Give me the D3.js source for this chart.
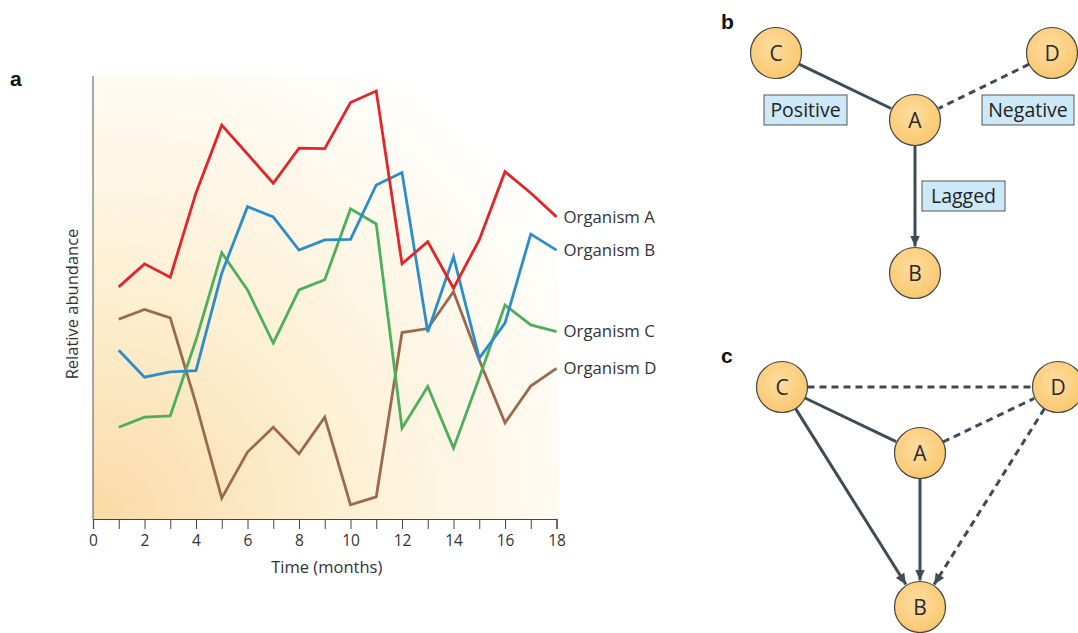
<!DOCTYPE html>
<html>
<head>
<meta charset="utf-8">
<script src="https://cdn.jsdelivr.net/npm/d3@7"></script>
<style>
  html,body{margin:0;padding:0;background:#fff;}
  svg{display:block;font-family:"Open Sans",sans-serif;}
</style>
</head>
<body>
<svg id="chart" width="1078" height="633"></svg>
<script>
// --- data (panel a) ---
var months = [1,2,3,4,5,6,7,8,9,10,11,12,13,14,15,16,17,18];
var xTicks = [0,1,2,3,4,5,6,7,8,9,10,11,12,13,14,15,16,17,18];
var xTickLabels = [0,2,4,6,8,10,12,14,16,18];
var organismA = [52.4,57.6,54.6,73.6,88.9,82.4,75.8,83.7,83.6,94.0,96.6,57.6,62.6,52.1,63.0,78.4,73.6,68.2];
var organismB = [38.1,32.0,33.2,33.5,55.5,70.5,68.2,60.7,63.0,63.1,75.4,78.2,42.2,59.2,36.3,44.2,64.3,60.7];
var organismC = [20.7,23.0,23.3,40.4,60.1,51.7,39.7,51.7,54.0,70.0,66.6,20.5,29.9,16.0,31.9,48.3,43.8,42.3];
var organismD = [45.1,47.3,45.4,26.0,4.7,15.1,20.7,14.7,23.0,3.2,5.0,42.1,43.0,51.3,35.9,21.7,30.0,34.0];
var seriesNames = ["Organism A","Organism B","Organism C","Organism D"];
var seriesColors = ["#e2252b","#2b8ecb","#4daf5b","#9b6a4c"];

// --- data (panels b, c) ---
var nodeNames = ["A","B","C","D"];
var edgesB = [
  {s:"C", t:"A", kind:"solid", arrow:false},
  {s:"D", t:"A", kind:"dashed", arrow:false},
  {s:"A", t:"B", kind:"solid", arrow:true}
];
var edgeLabelsB = ["Positive","Negative","Lagged"];
var edgesC = [
  {s:"C", t:"D", kind:"dashed", arrow:false},
  {s:"C", t:"A", kind:"solid", arrow:false},
  {s:"A", t:"D", kind:"dashed", arrow:false},
  {s:"C", t:"B", kind:"solid", arrow:true},
  {s:"A", t:"B", kind:"solid", arrow:true},
  {s:"D", t:"B", kind:"dashed", arrow:true}
];

var svg = d3.select("#chart");
var defs = svg.append("defs");

// background gradient of the plot area
var bg = defs.append("radialGradient").attr("id","bgGrad")
  .attr("cx","0%").attr("cy","100%").attr("r","120%")
  .attr("fx","0%").attr("fy","100%");
bg.append("stop").attr("offset","0%").attr("stop-color","#fadaa6");
bg.append("stop").attr("offset","45%").attr("stop-color","#fdf0d4");
bg.append("stop").attr("offset","100%").attr("stop-color","#ffffff");

var ng = defs.append("radialGradient").attr("id","nodeGrad")
  .attr("cx","45%").attr("cy","40%").attr("r","60%");
ng.append("stop").attr("offset","0%").attr("stop-color","#fedda0");
ng.append("stop").attr("offset","100%").attr("stop-color","#f9c86f");

defs.append("marker").attr("id","arr")
  .attr("viewBox","0 0 10 10").attr("refX",10).attr("refY",5)
  .attr("markerUnits","userSpaceOnUse")
  .attr("markerWidth",11).attr("markerHeight",11)
  .attr("orient","auto")
  .append("path").attr("d","M0,0.5 L10,5 L0,9.5 Z").attr("fill","#3d4c57");

// ---------- panel a ----------
var x = d3.scaleLinear().domain([0,18]).range([93,556.5]);
var y = d3.scaleLinear().domain([0,100]).range([519,76]);

svg.append("rect")
  .attr("x",x(0)).attr("y",y(100))
  .attr("width",x(18)-x(0)+2).attr("height",y(0)-y(100))
  .attr("fill","url(#bgGrad)");

// left axis line
svg.append("line").attr("x1",x(0)).attr("x2",x(0))
  .attr("y1",y(100)).attr("y2",y(0))
  .attr("stroke","#555").attr("stroke-width",1);

var xAxis = d3.axisBottom(x).tickValues(xTicks).tickSize(10).tickPadding(6)
  .tickFormat(function(d){ return xTickLabels.indexOf(d) >= 0 ? d : ""; });
var gX = svg.append("g").attr("transform","translate(0,"+y(0)+")").call(xAxis);
gX.select(".domain").attr("stroke","#444").attr("stroke-width",1.2);
gX.selectAll(".tick line").attr("stroke","#444").attr("stroke-width",1);
gX.selectAll(".tick text").attr("fill","#333").style("font-size","15.5px")
  .style("font-family","'Open Sans',sans-serif");

svg.append("text").attr("x",(x(0)+x(18))/2+2).attr("y",573)
  .attr("text-anchor","middle").attr("fill","#333")
  .style("font-size","16.5px").text("Time (months)");

svg.append("text").attr("transform","translate(78,304) rotate(-90)")
  .attr("text-anchor","middle").attr("fill","#333")
  .style("font-size","16.5px").text("Relative abundance");

svg.append("text").attr("x",10).attr("y",86)
  .style("font-family","'Liberation Sans',Arial,sans-serif")
  .style("font-weight","bold").style("font-size","21px").attr("fill","#111").text("a");

var allSeries = [organismA, organismB, organismC, organismD];
var line = d3.line().x(function(d,i){ return x(months[i]); }).y(function(d){ return y(d); });

// draw D, C, B, A so A sits on top
[3,2,1,0].forEach(function(k){
  svg.append("path").datum(allSeries[k])
    .attr("d",line).attr("fill","none")
    .attr("stroke",seriesColors[k]).attr("stroke-width",2.8)
    .attr("stroke-linejoin","miter");
});
allSeries.forEach(function(s,k){
  svg.append("text").attr("x",x(18)+7).attr("y",y(s[s.length-1]))
    .attr("dy","0.35em").attr("fill","#333")
    .style("font-size","16.8px").text(seriesNames[k]);
});

// ---------- panels b, c ----------
var posB = {C:[776,53], D:[1052,53], A:[915,120], B:[915,273]};
var posC = {C:[782,387], D:[1058,387], A:[920,453], B:[920,607]};
var R = 25.5;
var labelBoxB = [
  {x:764, y:95, w:83, h:30},
  {x:982, y:95, w:92, h:30},
  {x:922, y:181, w:83, h:30}
];

function drawNet(pos, edges){
  var g = svg.append("g");
  edges.forEach(function(e){
    var a = pos[e.s], b = pos[e.t];
    var dx = b[0]-a[0], dy = b[1]-a[1], L = Math.sqrt(dx*dx+dy*dy);
    var ux = dx/L, uy = dy/L;
    var ln = g.append("line")
      .attr("x1",a[0]+ux*R).attr("y1",a[1]+uy*R)
      .attr("x2",b[0]-ux*(R+1)).attr("y2",b[1]-uy*(R+1))
      .attr("stroke","#3d4c57").attr("stroke-width",3);
    if(e.kind=="dashed") ln.attr("stroke-dasharray","7,5");
    if(e.arrow) ln.attr("marker-end","url(#arr)");
  });
  nodeNames.forEach(function(n){
    var p = pos[n];
    g.append("circle").attr("cx",p[0]).attr("cy",p[1]).attr("r",R)
      .attr("fill","url(#nodeGrad)").attr("stroke","#444").attr("stroke-width",1.2);
    g.append("text").attr("x",p[0]).attr("y",p[1]).attr("dy","0.36em")
      .attr("text-anchor","middle").attr("fill","#2a2a2a")
      .style("font-size","21px").text(n);
  });
  return g;
}

var gB = drawNet(posB, edgesB);
labelBoxB.forEach(function(b,i){
  gB.append("rect").attr("x",b.x).attr("y",b.y).attr("width",b.w).attr("height",b.h)
    .attr("fill","#cde8f6").attr("stroke","#555").attr("stroke-width",1);
  gB.append("text").attr("x",b.x+b.w/2).attr("y",b.y+b.h/2).attr("dy","0.36em")
    .attr("text-anchor","middle").attr("fill","#222")
    .style("font-size","19.5px").text(edgeLabelsB[i]);
});
drawNet(posC, edgesC);

svg.append("text").attr("x",721).attr("y",29)
  .style("font-family","'Liberation Sans',Arial,sans-serif")
  .style("font-weight","bold").style("font-size","21px").attr("fill","#111").text("b");
svg.append("text").attr("x",721).attr("y",363)
  .style("font-family","'Liberation Sans',Arial,sans-serif")
  .style("font-weight","bold").style("font-size","21px").attr("fill","#111").text("c");
</script>
</body>
</html>
